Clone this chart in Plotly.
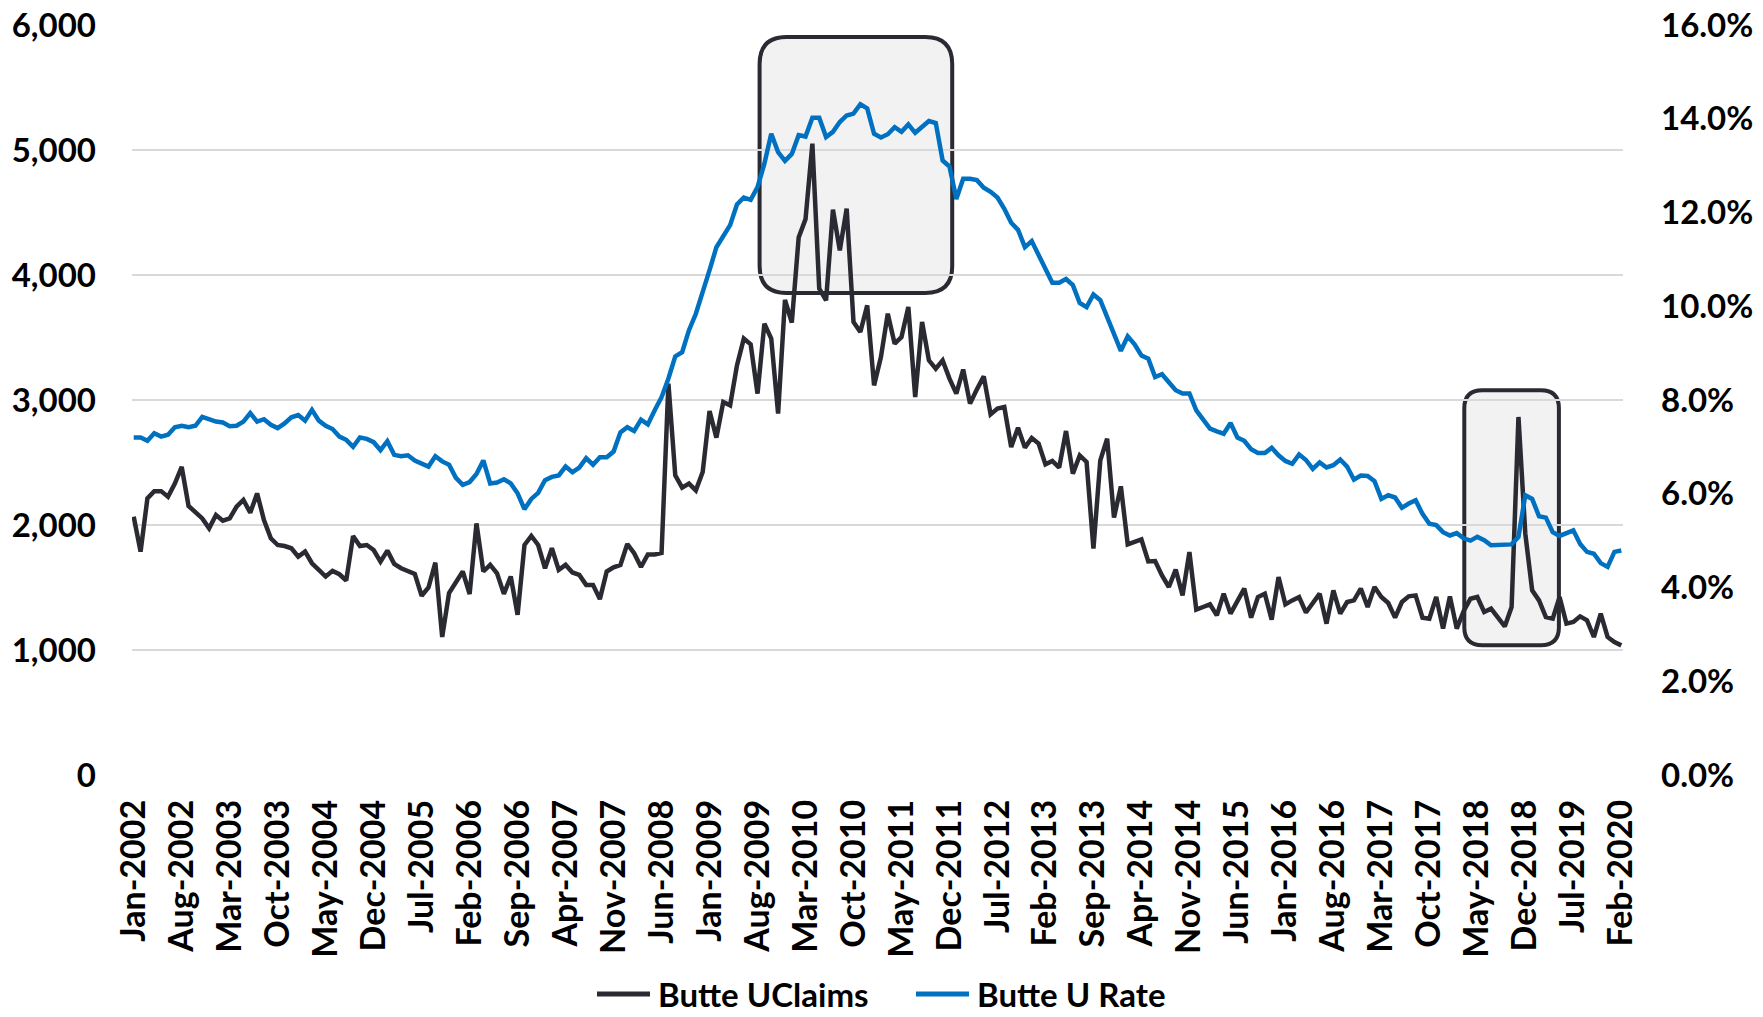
import plotly.graph_objects as go

# Monthly series Jan-2002 .. Feb-2020
month_names = ["Jan", "Feb", "Mar", "Apr", "May", "Jun", "Jul", "Aug", "Sep", "Oct", "Nov", "Dec"]
month_labels = [f"{month_names[i % 12]}-{2002 + i // 12}" for i in range(218)]

uclaims = [
    2066, 1787, 2213, 2271, 2271, 2226, 2332, 2465, 2152, 2106, 2053, 1973,
    2080, 2035, 2053, 2146, 2200, 2098, 2253, 2040, 1894, 1840, 1832, 1814,
    1747, 1787, 1694, 1641, 1588, 1633, 1606, 1556, 1912, 1832, 1840, 1800,
    1707, 1795, 1689, 1654, 1628, 1609, 1434, 1500, 1699, 1104, 1455, 1540,
    1628, 1447, 2013, 1628, 1681, 1614, 1449, 1588, 1282, 1840, 1912, 1840,
    1654, 1814, 1641, 1681, 1620, 1601, 1521, 1521, 1407, 1628, 1662, 1681,
    1848, 1774, 1664, 1765, 1765, 1776, 3131, 2397, 2299, 2331, 2277, 2424,
    2912, 2699, 2984, 2957, 3277, 3491, 3445, 3051, 3611, 3491, 2891, 3800,
    3620, 4300, 4447, 5051, 3891, 3797, 4523, 4197, 4531, 3624, 3544, 3757,
    3117, 3344, 3691, 3451, 3504, 3744, 3024, 3624, 3317, 3251, 3317, 3171,
    3051, 3244, 2971, 3085, 3189, 2885, 2931, 2944, 2624, 2779, 2619, 2696,
    2651, 2485, 2512, 2459, 2752, 2411, 2557, 2504, 1811, 2517, 2691, 2059,
    2309, 1845, 1864, 1884, 1708, 1712, 1597, 1504, 1643, 1437, 1784, 1323,
    1344, 1365, 1277, 1451, 1291, 1384, 1491, 1259, 1424, 1451, 1243, 1584,
    1365, 1397, 1424, 1300, 1371, 1451, 1211, 1477, 1291, 1384, 1397, 1491,
    1344, 1504, 1424, 1376, 1259, 1384, 1429, 1437, 1259, 1251, 1424, 1171,
    1429, 1171, 1310, 1410, 1424, 1304, 1331, 1264, 1189, 1344, 2864, 1930,
    1477, 1397, 1264, 1251, 1424, 1211, 1224, 1269, 1237, 1104, 1291, 1104,
    1064, 1037,
]

urate = [
    7.20, 7.20, 7.13, 7.29, 7.22, 7.26, 7.42, 7.45, 7.42, 7.45, 7.64, 7.59,
    7.54, 7.52, 7.44, 7.45, 7.54, 7.72, 7.54, 7.59, 7.47, 7.40, 7.50, 7.63,
    7.68, 7.56, 7.79, 7.56, 7.45, 7.38, 7.22, 7.15, 7.00, 7.20, 7.17, 7.10,
    6.93, 7.12, 6.83, 6.80, 6.82, 6.71, 6.65, 6.58, 6.80, 6.69, 6.62, 6.34,
    6.19, 6.25, 6.42, 6.71, 6.22, 6.24, 6.31, 6.22, 6.01, 5.67, 5.89, 6.02,
    6.29, 6.36, 6.39, 6.58, 6.46, 6.56, 6.76, 6.62, 6.78, 6.78, 6.90, 7.31,
    7.42, 7.34, 7.58, 7.48, 7.78, 8.06, 8.46, 8.93, 9.02, 9.49, 9.84, 10.28,
    10.77, 11.26, 11.51, 11.73, 12.17, 12.32, 12.27, 12.54, 13.04, 13.68, 13.29, 13.10,
    13.25, 13.65, 13.62, 14.02, 14.02, 13.61, 13.72, 13.93, 14.07, 14.11, 14.31, 14.22,
    13.68, 13.60, 13.67, 13.82, 13.72, 13.88, 13.70, 13.84, 13.95, 13.91, 13.11, 12.98,
    12.29, 12.72, 12.72, 12.69, 12.53, 12.44, 12.32, 12.08, 11.78, 11.63, 11.26, 11.39,
    11.09, 10.77, 10.50, 10.50, 10.58, 10.45, 10.07, 9.98, 10.25, 10.13, 9.76, 9.38,
    9.05, 9.36, 9.19, 8.95, 8.88, 8.49, 8.55, 8.38, 8.21, 8.14, 8.14, 7.78,
    7.60, 7.39, 7.33, 7.28, 7.51, 7.20, 7.13, 6.95, 6.87, 6.87, 6.98, 6.82,
    6.70, 6.64, 6.84, 6.72, 6.53, 6.67, 6.56, 6.61, 6.73, 6.58, 6.30, 6.39,
    6.38, 6.27, 5.89, 5.97, 5.92, 5.70, 5.79, 5.86, 5.57, 5.36, 5.33, 5.18,
    5.11, 5.16, 5.05, 5.00, 5.08, 5.01, 4.90, 4.90, 4.90, 4.92, 5.08, 5.97,
    5.89, 5.52, 5.49, 5.18, 5.10, 5.15, 5.22, 4.93, 4.76, 4.72, 4.52, 4.44,
    4.76, 4.79,
]

series_names = ["Butte UClaims", "Butte U Rate"]
left_ticks = [0, 1000, 2000, 3000, 4000, 5000, 6000]
right_ticks = [0, 2, 4, 6, 8, 10, 12, 14, 16]

# highlight boxes: (first month idx, last month idx, low claims, high claims, corner px)
highlight_boxes = [
    (91.3, 119.4, 3856, 5904, 27),
    (194.1, 207.9, 1038, 3078, 18),
]

x_idx = list(range(len(month_labels)))
tick_idx = x_idx[::7]
tick_txt = month_labels[::7]

BLACK = "#2a2a33"
BLUE = "#0070c0"
COLORS = [BLACK, BLUE]

W, H = 1763, 1017
ML, MR, MT, MB = 132, 140, 25, 242
PW, PH = W - ML - MR, H - MT - MB

def tick_font(size):
    return dict(family="Lato", size=size, color="#000000", weight="bold")

fig = go.Figure()
fig.add_trace(go.Scatter(x=x_idx, y=uclaims, mode="lines", name=series_names[0],
                         line=dict(color=BLACK, width=4.5), yaxis="y", showlegend=False))
fig.add_trace(go.Scatter(x=x_idx, y=urate, mode="lines", name=series_names[1],
                         line=dict(color=BLUE, width=4.5), yaxis="y2", showlegend=False))

x_range = [-0.25, 217.25]
px_per_month = PW / (x_range[1] - x_range[0])
px_per_claim = PH / 6000.0

shapes = []
for (a, b, lo, hi, r) in highlight_boxes:
    rx = r / px_per_month
    ry = r / px_per_claim
    path = (f"M {a+rx},{hi} L {b-rx},{hi} Q {b},{hi} {b},{hi-ry} "
            f"L {b},{lo+ry} Q {b},{lo} {b-rx},{lo} L {a+rx},{lo} "
            f"Q {a},{lo} {a},{lo+ry} L {a},{hi-ry} Q {a},{hi} {a+rx},{hi} Z")
    shapes.append(dict(type="path", path=path, xref="x", yref="y",
                       fillcolor="#f2f2f2", line=dict(color=BLACK, width=4),
                       layer="below"))

# manual legend (pixel positions converted to paper coordinates)
def px_to_paper_x(px):
    return (px - ML) / PW

def py_to_paper_y(py):
    return (MT + PH - py) / PH

legend_y = py_to_paper_y(994)
legend_items = [(597, 650, 657), (916, 969, 976)]
annotations = []
for (x0, x1, xt), name, col in zip(legend_items, series_names, COLORS):
    shapes.append(dict(type="line", xref="paper", yref="paper",
                       x0=px_to_paper_x(x0), x1=px_to_paper_x(x1), y0=legend_y, y1=legend_y,
                       line=dict(color=col, width=5)))
    annotations.append(dict(xref="paper", yref="paper", x=px_to_paper_x(xt), y=legend_y,
                            xanchor="left", yanchor="middle", showarrow=False, text=name,
                            borderpad=0, font=tick_font(33)))

fig.update_layout(
    width=W, height=H,
    margin=dict(l=ML, r=MR, t=MT, b=MB, autoexpand=False),
    paper_bgcolor="white", plot_bgcolor="rgba(0,0,0,0)",
    font=tick_font(33),
    showlegend=False,
    xaxis=dict(range=x_range, tickmode="array", tickvals=tick_idx, ticktext=tick_txt,
               tickangle=-90, showgrid=False, zeroline=False, showline=False,
               ticks="", ticklabelstandoff=17, tickfont=tick_font(34), automargin=False),
    yaxis=dict(range=[0, 6000], tickmode="array", tickvals=left_ticks,
               ticktext=[f"{v:,}" for v in left_ticks],
               showgrid=True, gridcolor="#d9d9d9", gridwidth=2, zeroline=False,
               showline=False, ticks="", ticklabelstandoff=35, tickfont=tick_font(33),
               automargin=False),
    yaxis2=dict(range=[0, 16], overlaying="y", side="right", tickmode="array",
                tickvals=right_ticks, ticktext=[f"{v:.1f}%" for v in right_ticks],
                showgrid=False, zeroline=False, showline=False, ticks="",
                ticklabelstandoff=37, tickfont=tick_font(33), automargin=False),
    shapes=shapes,
    annotations=annotations,
)

fig.write_html("out.html", config={"displayModeBar": False},
               post_script="document.body.style.margin='0';")
